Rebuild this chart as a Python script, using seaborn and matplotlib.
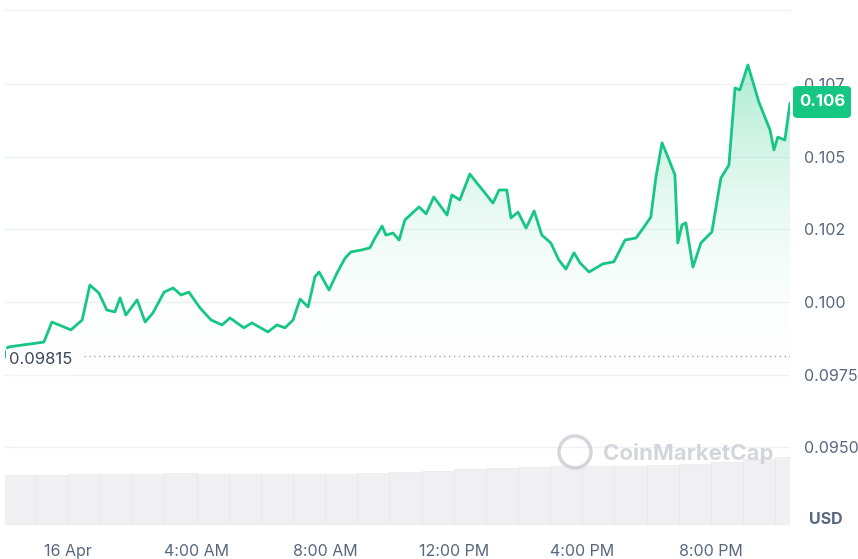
import numpy as np
import pandas as pd
import matplotlib
matplotlib.use("Agg")
import matplotlib.pyplot as plt
from matplotlib.colors import LinearSegmentedColormap
from matplotlib.patches import FancyBboxPatch, Ellipse
import seaborn as sns

# hours since 16 Apr 00:00 and price in USD
hours = [-1.96, -1.87, -0.75, -0.50, 0.09, 0.44, 0.68, 0.96, 1.21, 1.46, 1.62, 1.80, 2.15, 2.40,
         2.64, 2.99, 3.27, 3.52, 3.76, 4.11, 4.45, 4.79, 5.04, 5.47, 5.72, 6.22, 6.50, 6.75, 7.00,
         7.22, 7.47, 7.68, 7.81, 8.12, 8.37, 8.62, 8.80, 9.14, 9.39, 9.55, 9.77, 9.89, 10.11, 10.30,
         10.48, 10.92, 11.14, 11.38, 11.79, 11.94, 12.19, 12.50, 12.72, 12.97, 13.22, 13.41, 13.65,
         13.78, 14.00, 14.25, 14.50, 14.74, 15.02, 15.27, 15.49, 15.74, 15.93, 16.21, 16.64, 16.98,
         17.33, 17.67, 17.92, 18.13, 18.29, 18.48, 18.66, 18.88, 18.97, 19.10, 19.22, 19.44, 19.69,
         20.03, 20.31, 20.56, 20.75, 20.90, 21.15, 21.49, 21.84, 21.96, 22.08, 22.30, 22.46]
price = [0.09811, 0.09845, 0.09862, 0.09931, 0.09904, 0.09938, 0.10058, 0.10031, 0.09972, 0.09966,
         0.10014, 0.09955, 0.10007, 0.09931, 0.09962, 0.10034, 0.10048, 0.10024, 0.10034, 0.09979,
         0.09938, 0.09921, 0.09945, 0.09911, 0.09928, 0.09897, 0.09921, 0.09911, 0.09938, 0.10010,
         0.09983, 0.10086, 0.10103, 0.10041, 0.10100, 0.10151, 0.10172, 0.10179, 0.10186, 0.10220,
         0.10261, 0.10230, 0.10237, 0.10213, 0.10282, 0.10327, 0.10303, 0.10361, 0.10299, 0.10368,
         0.10351, 0.10440, 0.10409, 0.10375, 0.10340, 0.10385, 0.10385, 0.10289, 0.10309, 0.10254,
         0.10313, 0.10230, 0.10203, 0.10144, 0.10113, 0.10169, 0.10134, 0.10103, 0.10131, 0.10138,
         0.10213, 0.10220, 0.10258, 0.10292, 0.10430, 0.10547, 0.10499, 0.10437, 0.10203, 0.10265,
         0.10272, 0.10120, 0.10203, 0.10241, 0.10426, 0.10471, 0.10736, 0.10729, 0.10815, 0.10688,
         0.10591, 0.10523, 0.10567, 0.10557, 0.10684]

# hourly volume (relative)
vol_hours = list(range(-2, 23))
volume = [50, 50, 51, 51, 51, 52, 51, 51, 51, 51, 51, 52, 53, 54, 56, 57, 58, 59, 59, 59, 60, 61, 63, 66, 68]

open_price = 0.09815
last_label = "0.106"
tick_vals = [0.0950, 0.0975, 0.1000, 0.1025, 0.1050, 0.1075]
tick_labels = ["0.0950", "0.0975", "0.100", "0.102", "0.105", "0.107"]
x_ticks = [0, 4, 8, 12, 16, 20]
x_labels = ["16 Apr", "4:00 AM", "8:00 AM", "12:00 PM", "4:00 PM", "8:00 PM"]

GREEN = "#16c784"
df = pd.DataFrame({"hour": hours, "price": price})

sns.set_style("white")
plt.rcParams["font.family"] = ["Inter", "DejaVu Sans"]

fig = plt.figure(figsize=(8.58, 5.59), dpi=100)
ax = fig.add_axes([5 / 858, 1 - 525 / 559, 785 / 858, 515 / 559])
ymin, ymax = 0.09233, 0.11004
xmin, xmax = -1.96, 22.46

# volume on a twin axis
axv = ax.twinx()
axv.bar(vol_hours, volume, width=1.0, color="#f0f0f3", align="edge", zorder=0,
        edgecolor="#e6e6ea", linewidth=0.4)
axv.set_ylim(0, 515)
axv.set_yticks([])
for s in axv.spines.values():
    s.set_visible(False)
ax.set_zorder(axv.get_zorder() + 1)
ax.patch.set_visible(False)

# gradient fill under line
cmap = LinearSegmentedColormap.from_list("g", [(1, 1, 1, 0), (22 / 255, 199 / 255, 132 / 255, 0.35)])
grad = np.linspace(0, 1, 256).reshape(-1, 1)
im = ax.imshow(grad, extent=[xmin, xmax, 0.0975, max(price)], origin="lower", aspect="auto",
               cmap=cmap, zorder=1)
poly = ax.fill_between(hours, price, 0.0975, color="none")
clip = poly.get_paths()[0]
im.set_clip_path(clip, transform=ax.transData)

sns.lineplot(data=df, x="hour", y="price", ax=ax, color=GREEN, linewidth=2, zorder=3)

ax.axhline(open_price, xmin=0.1, xmax=1, color="#a0a4ad", linestyle=(0, (1, 2.5)), linewidth=1)
ax.text(xmin + 0.12, open_price - 0.00012, "0.09815", fontsize=12, color="#3c4658", va="center",
        ha="left", bbox=dict(facecolor="white", edgecolor="none", pad=2), zorder=4)

ax.set_xlim(xmin, xmax)
ax.set_ylim(ymin, ymax)
ax.set_yticks(tick_vals)
ax.set_yticklabels(tick_labels)
ax.yaxis.tick_right()
ax.tick_params(axis="y", length=0, labelsize=11.5, labelcolor="#58667e", pad=10)
ax.set_xticks(x_ticks)
ax.set_xticklabels(x_labels)
ax.tick_params(axis="x", length=0, labelsize=11.5, labelcolor="#58667e", pad=14)
ax.grid(axis="y", color="#eff2f5", linewidth=1)
ax.set_xlabel("")
ax.set_ylabel("")
for side in ["left", "right", "bottom"]:
    ax.spines[side].set_visible(False)
ax.spines["top"].set_color("#eff2f5")

# last price badge
fig.patches.append(FancyBboxPatch((793 / 858, 1 - 118 / 559), 58 / 858, 32 / 559,
                                  boxstyle="round,pad=0,rounding_size=0.006",
                                  transform=fig.transFigure, facecolor=GREEN, edgecolor="none"))
fig.text(822 / 858, 1 - 102 / 559, last_label, color="white", fontsize=12, fontweight="bold",
         ha="center", va="center")

fig.text(826 / 858, 1 - 519 / 559, "USD", color="#58667e", fontsize=11.5, fontweight="bold",
         ha="center", va="center")
fig.text(603 / 858, 1 - 453 / 559, "CoinMarketCap", color="#c8ccd3", fontsize=16,
         fontweight="bold", ha="left", va="center", alpha=0.8)
fig.patches.append(Ellipse((575 / 858, 1 - 452 / 559), 32 / 858, 32 / 559, transform=fig.transFigure,
                           fill=False, edgecolor="#c8ccd3", linewidth=2.5, alpha=0.8))

fig.savefig("out.png", dpi=100)
